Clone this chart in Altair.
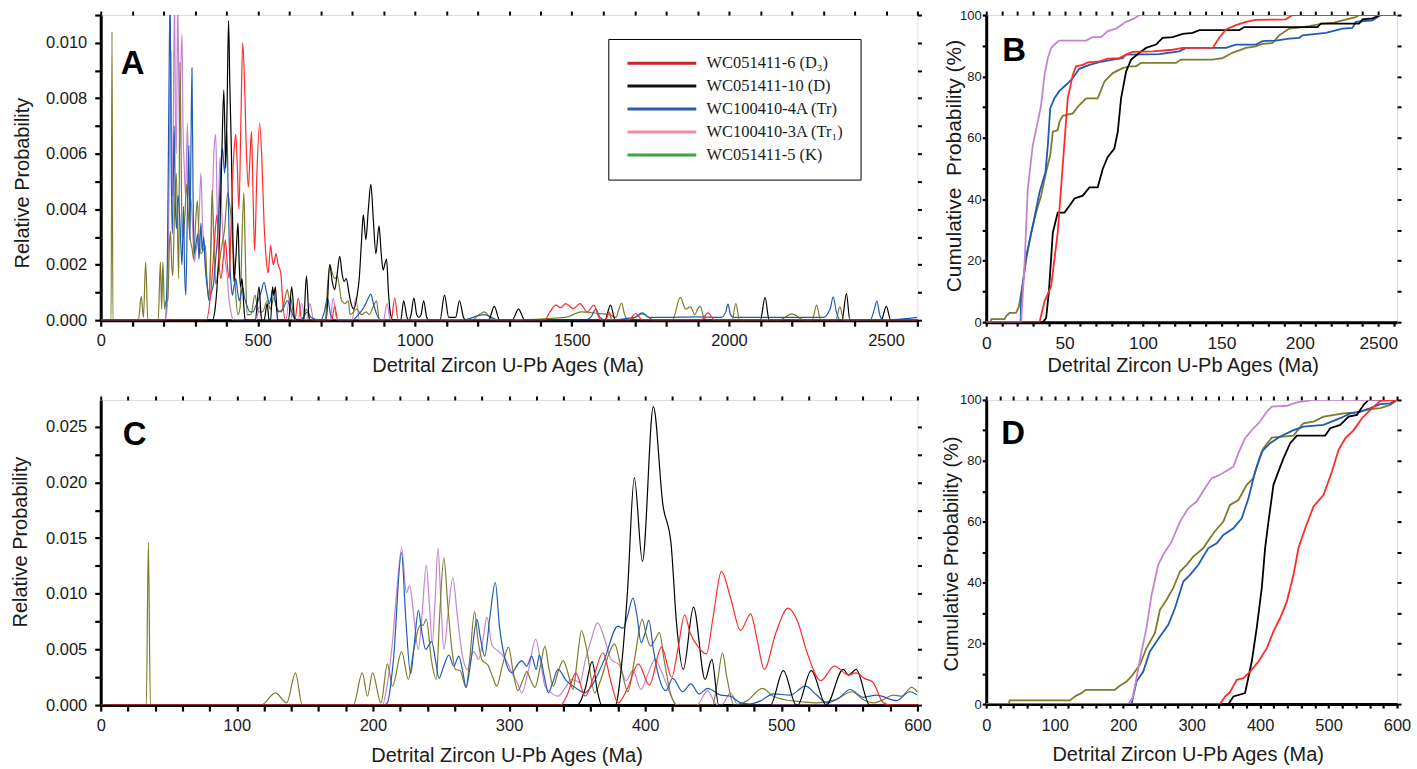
import altair as alt
import pandas as pd

# ---------------- Panel A : relative probability, 0-2600 Ma ----------------
A_RED = [(0,0),(336,0),(352,0.0012),(362,0.0028),(370,0.0038),(376,0.0022),(383,0.0015),(390,0.0022),(397,0.0029),(403,0.002),(409,0.0015),(414,0.003),(419,0.0048),(425,0.0062),(430,0.0067),(435,0.0055),(440,0.0040),(446,0.007),(452,0.0100),(458,0.0085),(464,0.006),(470,0.0048),(475,0.0058),(480,0.0068),(485,0.0045),(490,0.0025),(497,0.0052),(506,0.0071),(513,0.0058),(520,0.0035),(527,0.0022),(533,0.0017),(541,0.0027),(546,0.0022),(550,0.002),(558,0.0024),(565,0.002),(573,0.0017),(580,0.0006),(587,0),(618,0),(629,0.0008),(640,0),(735,0),(745,0.0005),(755,0),(925,0),(936,0.0008),(947,0),(1412,0),(1430,0.0003),(1449,0.00054),(1465,0.00045),(1480,0.0006),(1504,0.00042),(1526,0.0006),(1549,0.0003),(1570,0.00054),(1586,0.0001),(1595,0),(1608,0),(1618,0.0003),(1628,0),(1680,0),(1703,0.00024),(1725,0),(1910,0),(1933,0.00026),(1955,0),(2600,0)]
A_BLACK = [(0,0),(355,0),(364,0.0004),(372,0.0015),(380,0.0035),(386,0.0062),(392,0.0083),(398,0.0055),(402,0.0075),(407,0.0108),(411,0.0085),(416,0.0061),(420,0.0035),(424,0.0014),(430,0.0022),(437,0.0035),(441,0.002),(445,0.0012),(450,0.0015),(455,0.0006),(460,0),(492,0),(504,0.0012),(512,0),(520,0),(530,0.0006),(536,0),(541,0),(547,0.0012),(551,0.0009),(556,0.0012),(563,0),(598,0),(608,0.0012),(618,0),(646,0),(655,0.0016),(664,0),(718,0),(729,0.002),(737,0.0014),(745,0.0011),(752,0.0016),(761,0.0023),(768,0.0017),(775,0.0014),(782,0.0015),(790,0.001),(797,0.0006),(806,0.0004),(815,0.0008),(823,0.0015),(830,0.0028),(836,0.0038),(844,0.0029),(852,0.004),(860,0.0049),(868,0.0036),(876,0.0024),(886,0.0034),(893,0.0024),(899,0.0018),(904,0.002),(910,0.0022),(916,0.001),(923,0.0002),(930,0),(955,0),(964.5,0.0007),(975,0.0001),(981,0),(988,0.0002),(997,0.0008),(1006,0.0002),(1013,0.0001),(1020,0.0002),(1028,0.0007),(1038,0.0001),(1045,0),(1080,0),(1094.5,0.0009),(1108,0.0001),(1130,0.0001),(1142,0.0007),(1155,0.0001),(1163,0),(1235,0),(1253,0.0005),(1270,0),(1310,0),(1330,0.0004),(1350,0),(1605,0),(1623,0.00054),(1638,0),(2100,0),(2115,0.00082),(2128,0),(2360,0),(2374,0.00096),(2385,0),(2485,0),(2501,0.0005),(2515,0),(2600,0)]
A_BLUE = [(0,0),(205,0),(212,0.002),(217,0.008),(221,0.0118),(224,0.006),(228,0.0031),(231,0.005),(234,0.007),(237,0.0045),(241,0.0033),(246,0.0045),(252,0.0036),(256,0.0025),(259,0.002),(263.5,0.0041),(267,0.0018),(271,0.0009),(276,0.004),(280.5,0.0063),(284,0.0029),(287,0.006),(290.5,0.0091),(294,0.0045),(298,0.0024),(304,0.0028),(309,0.0031),(313,0.0022),(319,0.0035),(323,0.0025),(328,0.003),(333,0.0019),(339,0.0012),(345,0.0007),(352,0.001),(359,0.0013),(366,0.0022),(373,0.0032),(380,0.0048),(387.5,0.0062),(394.5,0.0053),(401.5,0.0068),(406,0.0045),(410,0.0024),(415,0.0013),(419,0.0009),(424,0.0012),(430,0.0015),(436,0.001),(441.5,0.0007),(446,0.0009),(451.5,0.0012),(458,0.0008),(466,0.0005),(475,0.0003),(485,0.0003),(493,0.0005),(501,0.0007),(510,0.001),(520,0.00136),(528,0.001),(537,0.0006),(542,0.0008),(547,0.0011),(555,0.0007),(565,0.0003),(580,0.0004),(594,0.0007),(605,0.0004),(615,0.0001),(635,0),(645,0.0001),(658,0.0003),(670,0.0001),(700,0),(712,0.0003),(722,0.0008),(732,0.0002),(745,0),(800,0),(820,0.0002),(840,0.0005),(852,0.0008),(860,0.00094),(868,0.0006),(879,0.0002),(890,0),(1150,0),(1220,0.0002),(1270,0),(1540,0),(1560,0.0001),(1576,0.00039),(1590,0.0001),(1605,0),(1700,0.0001),(1724,0.00026),(1745,0.0001),(1800,0.0001),(1900,0.00012),(1975,0.0001),(1990,0.0003),(1997,0.00058),(2005,0.0002),(2015,0.0001),(2100,0.0001),(2200,0.0001),(2300,0.0001),(2322,0.0004),(2332,0.00084),(2342,0.0003),(2355,0),(2450,0),(2463,0.0004),(2471,0.00069),(2480,0.0002),(2490,0),(2600,0.0001)]
A_PINK = [(0,0),(205,0),(212,0.0005),(216,0.003),(220,0.0075),(223.6,0.0097),(226,0.006),(229,0.0045),(232,0.0085),(235,0.0116),(238,0.007),(241,0.006),(245,0.0116),(249,0.008),(252,0.0062),(255,0.009),(259,0.0103),(262,0.007),(266,0.0055),(270,0.0045),(276,0.0071),(281,0.0045),(287.7,0.0043),(292,0.0035),(297.7,0.0021),(303,0.0025),(309,0.0029),(314,0.004),(319,0.0053),(324,0.0035),(330.5,0.0024),(337,0.0015),(344.7,0.0009),(350,0.002),(356,0.0045),(361,0.0062),(366,0.0067),(370,0.0045),(373,0.0031),(376,0.0045),(380,0.0059),(385,0.004),(390,0.0029),(396,0.0022),(401.7,0.0017),(408,0.0008),(416,0.0002),(422,0),(495,0),(505,0.0005),(515,0),(590,0),(600,0.0008),(610,0),(628,0),(640,0.0006),(652,0),(655,0),(666,0.0006),(678,0),(730,0),(740,0.0008),(752,0),(800,0),(812,0.0008),(824,0),(900,0),(911.6,0.0006),(922,0),(2600,0)]
A_OLIVE = [(0,0),(33,0),(35.9,0.0104),(38.8,0),(120,0),(129,0.00086),(136,0.0001),(143,0.0021),(150,0),(183,0),(190,0.0021),(194,0.0004),(198,0.0021),(203,0.0004),(208,0.0007),(214,0.0007),(218,0.0025),(222,0.0032),(226,0.002),(229.5,0.0016),(234,0.0035),(240.7,0.0053),(245,0.003),(248.5,0.0015),(252,0.0093),(256,0.006),(259,0.003),(263.5,0.0031),(268,0.0038),(273.5,0.0049),(278,0.004),(284,0.003),(290.6,0.0026),(296,0.0022),(302,0.0035),(307.7,0.0043),(313,0.003),(319,0.0024),(326,0.0025),(333,0.0027),(338,0.0015),(344.7,0.0008),(350,0.0025),(354.7,0.0047),(360,0.003),(366,0.0013),(374,0.0018),(383,0.0025),(389,0.0029),(394.6,0.0033),(399,0.004),(404.6,0.0046),(410,0.0042),(416,0.0036),(420,0.0028),(424.5,0.0021),(430,0.0009),(437,0.0002),(444,0.0005),(450,0.003),(455.8,0.0046),(460,0.0025),(466,0.0002),(478,0.0002),(491,0.0009),(502,0.0003),(515,0.0003),(530,0.0007),(540,0.0004),(551,0.0008),(562,0.0004),(575,0.0003),(585,0.0007),(594,0.0011),(600,0.0008),(605,0.0008),(612,0.0003),(619,0),(640,0),(655,0.0004),(668,0),(715,0),(722,0.0012),(729.7,0.002),(737,0.0017),(745.6,0.0015),(753,0.0016),(760,0.0012),(767,0.0007),(778,0.0006),(788,0.0007),(794,0.0002),(805,0.0003),(815,0.0004),(830,0.0002),(845,0.0003),(855,0.0002),(868,0.0005),(878,0.0007),(887,0),(1180,0),(1205,0.0002),(1221,0.0003),(1240,0.0001),(1270,0),(1480,0.0001),(1530,0.0003),(1580,0.00025),(1620,0.0002),(1640,0.0001),(1650,0.0004),(1658,0.00062),(1668,0.0002),(1680,0),(1700,0.0001),(1724,0.00023),(1745,0.0001),(1760,0),(1820,0),(1845,0.00082),(1862,0.0004),(1877,0.00048),(1892,0.0002),(1900,0.0004),(1909,0.0005),(1920,0.0001),(1935,0),(2010,0),(2022,0.0006),(2034,0),(2160,0),(2200,0.00023),(2240,0),(2265,0),(2279,0.00054),(2292,0),(2340,0),(2353,0.00048),(2366,0),(2600,0)]

# ---------------- Panel B : cumulative probability (axis 0-260, last label 2500) ----------------
B_RED = [(0,0),(34,0),(37.2,6.8),(41.4,11.7),(45.6,29.2),(48.8,51),(52,72.9),(55.2,80.5),(57.3,83.3),(61.6,83.8),(64.8,84.6),(72.2,84.9),(77.5,85.8),(84.9,86),(89.2,87.1),(93.4,88),(106.2,88.2),(118.9,88.7),(125.3,89.3),(144.4,89.3),(148.6,92.6),(152.9,95.3),(159.2,96.7),(165.6,97.8),(172,98.4),(191.1,98.6),(195.3,100),(262,100)]
B_BLACK = [(0,0),(36.1,0),(38.2,1.3),(39.9,9.5),(42.5,29.2),(45.6,35.7),(49.9,35.7),(53.1,37.9),(56.3,40.3),(61.6,41.2),(65.8,43.9),(71.1,43.9),(74.3,49.9),(77.5,53.8),(81.7,56.5),(83.9,62),(86,72.9),(89.2,81.6),(92.4,85.5),(97.7,87.7),(101.9,89.3),(108.3,90.4),(112.5,92.6),(118.9,92.8),(125.3,93.9),(131.6,94.2),(135.9,95.1),(161.4,95.1),(164.5,96.1),(211.3,96.1),(213.4,97.2),(237.8,97.2),(240,98.6),(246.3,98.9),(251.6,100),(262,100)]
B_BLUE = [(0,0),(21.9,0),(22.3,8.4),(25.5,21.5),(29.7,31.4),(34,42.3),(37.8,48.9),(39.3,57.6),(40.8,69.6),(43.5,72.9),(46.7,75.3),(51,77.3),(55.2,79.5),(59.4,82.5),(65.8,83.8),(72.2,84.7),(80.7,85.5),(87,86),(89.2,87.1),(110.4,87.3),(123.1,88.2),(127.4,89.3),(152.9,89.3),(159.2,90.4),(172,90.4),(176.2,91.5),(184.7,91.7),(193.2,92.3),(199.6,92.6),(201.7,93.4),(216.6,94.2),(227.2,95.6),(233.5,95.8),(235.7,97.8),(246.3,98.3),(249.5,99.3),(250.5,100),(262,100)]
B_PINK = [(0,0),(22.3,0),(24.4,18.3),(26.5,43.4),(29.7,57.6),(32.9,65.2),(35,70.7),(37.2,80.5),(39.3,86),(41.4,89.3),(44.6,90.9),(46.7,91.7),(63.7,91.7),(67.9,92.8),(73.2,92.8),(77.5,94.8),(82.8,95.6),(89.2,97.8),(94.5,98.9),(97.7,100),(262,100)]
B_OLIVE = [(0,0),(3,0),(3.2,1),(11.7,1),(12.7,2),(14.9,3),(19,3),(20.8,5),(23.4,12.8),(25.5,20.4),(28.7,29.2),(31.8,35.7),(35,41.2),(38.2,48.9),(40.8,54.3),(42.5,62),(45.6,62.5),(46.7,65.2),(48.8,67.2),(55.2,68),(59.4,70.7),(63.7,72.9),(71.1,72.9),(75.4,78.4),(80.7,81.1),(87,82.7),(91.3,83.3),(95.5,83.3),(98.7,84.4),(121,84.4),(124.2,85.5),(144.4,85.5),(150.7,86),(157,87.7),(165.6,89.3),(172,89.8),(176.2,90.6),(182.6,90.9),(186.8,93.4),(193.2,95.6),(201.7,96.1),(206,96.4),(214.4,97.2),(221.9,97.5),(227.2,98.3),(235.7,99.3),(237.8,100),(262,100)]

# ---------------- Panel C : relative probability, 0-600 Ma ----------------
C_RED = [(0,0),(338,0),(343,0.001),(349,0.0029),(356,0.0008),(362,0.0025),(369,0.0047),(375,0.002),(380,0.0002),(387,0.0015),(395,0.0037),(403,0.0018),(412,0.0052),(419.5,0.0025),(424,0.005),(429,0.0081),(433,0.0065),(438.5,0.0053),(445,0.0046),(450,0.008),(456,0.012),(463,0.0095),(470,0.0067),(477.5,0.0082),(482,0.006),(487.5,0.0032),(496,0.0065),(505,0.0087),(512,0.0075),(519,0.0047),(529,0.0022),(539,0.0035),(549.5,0.0027),(555,0.0029),(561,0.0024),(567,0.0021),(575,0.0002),(580,0),(600,0)]
C_BLACK = [(0,0),(350,0),(356,0.0015),(361,0.0039),(365,0.0012),(368,0),(378,0),(383,0.004),(387,0.0102),(392,0.0204),(398,0.0129),(406,0.0268),(413,0.018),(419,0.0145),(423,0.0074),(428,0.0032),(435.5,0.0088),(444,0.0023),(449,0.0041),(454,0),(492,0),(501.5,0.0031),(511,0),(512,0),(522,0.0031),(533,0),(545.5,0.0032),(549.5,0.0027),(555,0.0032),(565,0),(600,0)]
C_BLUE = [(0,0),(208,0),(210.6,0.0002),(215,0.004),(221,0.0137),(224,0.008),(227.7,0.0028),(230,0.005),(233.4,0.0085),(236,0.0065),(238.7,0.005),(243.1,0.0057),(246,0.004),(248.5,0.0024),(252,0.0035),(255.8,0.0045),(259.4,0.0035),(263.1,0.0044),(266,0.003),(268.4,0.0016),(272,0.004),(276.4,0.0077),(279,0.006),(282.1,0.0044),(286,0.008),(289.9,0.011),(293,0.007),(296.7,0.0043),(302,0.0029),(306,0.0036),(309.3,0.004),(313,0.0035),(316.6,0.0044),(320,0.0032),(322.2,0.0045),(326,0.0025),(328.9,0.0011),(332,0.002),(336,0.0032),(342,0.0022),(350.8,0.0014),(355.6,0.0011),(362,0.002),(370,0.0041),(380,0.0071),(383.7,0.0069),(387,0.008),(391,0.0096),(394,0.008),(397,0.0056),(400,0.0065),(402.7,0.0076),(406,0.005),(409.3,0.0029),(415.3,0.0013),(420.2,0.0024),(427.5,0.0012),(433.6,0.0019),(439.7,0.001),(445.8,0.0015),(455.5,0.0009),(462.6,0.0008),(470,0.0002),(477,0.0001),(485,0.0004),(494.3,0.001),(506.5,0.0009),(517.7,0.0017),(526,0.0009),(533.5,0.0002),(542,0.0006),(550.6,0.0014),(560.3,0.0007),(570,0.0009),(584.7,0.0004),(594.3,0.0012),(600,0.0009)]
C_PINK = [(0,0),(207,0),(210,0.0015),(214.3,0.0056),(218,0.011),(221.1,0.0141),(224.5,0.0101),(227,0.0107),(230,0.008),(233.3,0.005),(236,0.008),(239.2,0.0126),(241.5,0.009),(243.6,0.0056),(245.5,0.009),(247.8,0.0141),(250,0.009),(252.1,0.005),(255,0.008),(258.7,0.0114),(262,0.008),(265,0.005),(269.2,0.0032),(274,0.0048),(277.7,0.0041),(281,0.006),(283.7,0.0079),(287.4,0.0054),(293.5,0.0047),(298,0.004),(302,0.0029),(306,0.002),(309.3,0.0011),(314,0.003),(319.6,0.0059),(323,0.004),(326.4,0.0017),(331,0.0011),(336,0.0008),(341,0.0015),(345.9,0.0023),(349,0.0022),(352,0.002),(356,0.004),(360.4,0.0059),(365,0.0074),(370,0.006),(375,0.0041),(381,0.0036),(386,0.0022),(391,0.0031),(397,0.0014),(402,0.0028),(407.3,0.0041),(412,0.003),(415.3,0.002),(419,0.0008),(423,0),(438,0),(445.8,0.0013),(452,0.0001),(456,0),(462.8,0.0011),(468,0),(600,0)]
C_OLIVE = [(0,0),(33.5,0),(35,0.0146),(36.5,0),(118,0),(128.4,0.0011),(136.6,0.0002),(143.1,0.0029),(148,0),(185.6,0),(192.2,0.0029),(196,0.0008),(199.7,0.0029),(205.9,0.0002),(210.6,0.0037),(214.3,0.0017),(221.1,0.0048),(226,0.0023),(230,0.005),(234.3,0.0071),(237,0.0072),(239.2,0.0077),(243,0.004),(246.5,0.0023),(249,0.008),(252.1,0.0132),(255,0.009),(258,0.005),(260.6,0.0032),(264,0.0031),(268.4,0.0016),(271,0.004),(274.7,0.0084),(277,0.006),(280,0.0041),(284.9,0.0035),(288,0.0025),(291,0.0017),(295,0.0035),(299.6,0.0052),(303,0.003),(306.4,0.0013),(310,0.0022),(313,0.003),(316,0.0022),(319,0.0016),(323,0.0035),(326.4,0.0053),(329,0.0035),(332.5,0.0017),(336,0.003),(339.8,0.004),(343,0.003),(347.1,0.0014),(350,0.004),(353.2,0.0067),(357,0.005),(362.9,0.0011),(368,0.0025),(373,0.0045),(377.5,0.0055),(382,0.0035),(387.3,0.0012),(392,0.004),(397.8,0.0077),(401,0.0062),(403.9,0.0053),(407,0.0058),(410.4,0.0065),(414,0.004),(419,0.0009),(423.9,0),(449.5,0),(453,0.002),(456.8,0.0047),(460,0.0025),(465.3,0),(475,0.0004),(486,0.0015),(494,0.0008),(501.8,0.0005),(515,0.0003),(526,0.0002),(540,0.0005),(551.8,0.0012),(560,0.0005),(567.6,0.0002),(575,0.0005),(582.2,0.0009),(588.3,0.0008),(595.6,0.0016),(600,0.0012)]

# ---------------- Panel D : cumulative probability, 0-600 Ma ----------------
D_RED = [(0,0),(341.5,0),(348.8,2.5),(356,3.9),(365.9,8),(375.6,8.5),(385.4,10.7),(397.6,14),(409.8,18.4),(419.5,23.9),(429.3,28.3),(439,33.7),(448.8,42.5),(456,51.3),(465.9,57.8),(478,65),(492.7,68.8),(504.9,76.5),(514.6,83.6),(524.4,87.4),(536.6,90.1),(548.8,94),(563.4,97.3),(575.6,99.7),(600,100)]
D_BLACK = [(0,0),(353.7,0),(361,2.5),(378,3.6),(387.8,14),(395,25),(402.4,38.1),(407.3,51.3),(412.2,60),(419.5,72.1),(426.8,76.5),(434.1,80.8),(443.9,85.8),(453.7,88.3),(495,88.3),(502.4,90.7),(517,91.8),(529.3,94.5),(541.5,95.1),(551.2,98.4),(558.5,100),(600,100)]
D_BLUE = [(0,0),(212.2,0),(219.5,7.4),(229.3,10.7),(239,17.3),(253.7,22.2),(265.9,26.1),(275.6,31.5),(287.8,40.3),(297.6,42.5),(309.8,45.8),(324.4,51.3),(336.6,52.9),(346.3,55.6),(361,57.8),(373.2,61.1),(383,67.7),(392.7,76.5),(402.4,83),(414.6,85.8),(429.3,88),(448.8,90.1),(463.4,91.2),(492.7,91.8),(517,94),(531.7,95.6),(546.3,96.2),(561,97.3),(575.6,98.6),(590,98.9),(600,100)]
D_PINK = [(0,0),(207.3,0),(213.7,2),(218.5,7.4),(226.8,17.3),(234,25),(241.5,35.9),(251.2,45.8),(258.5,49.1),(270.7,53.4),(283,60),(295,64.4),(307.3,66.6),(319.5,71),(329.3,74.3),(339,75.1),(351.2,76.7),(361,78.1),(368.3,82.5),(378,87.4),(387.8,90.1),(400,92.9),(409.8,96.2),(417,97.8),(439,98.1),(453.7,99.2),(468.3,99.7),(478,100),(600,100)]
D_OLIVE = [(0,0),(33.2,0),(34,1.2),(122,1.2),(131.7,2.8),(139,3.6),(145.4,4.7),(187.8,4.7),(195,6),(205,7.4),(212,9.1),(224.4,12.9),(234,18.4),(246.3,23.3),(253.7,31),(263.4,34.3),(273,38.1),(283,43.6),(292.7,45.8),(302.4,48.5),(317,51.3),(331.7,56.2),(346.3,60),(356,65.5),(368.3,67.1),(380.5,72.1),(390.2,74.3),(397.6,79.7),(404.9,84.1),(417,87.6),(448.8,88.3),(461,91.8),(463.4,92.3),(478,92.9),(492.7,94.5),(522,95.6),(541.5,95.9),(561,97),(575.6,97.3),(590,98.4),(600,100)]

# ---------------- legend ----------------
LEG_LABELS = ["WC051411-6 (D\u2083)", "WC051411-10 (D)", "WC100410-4A (Tr)", "WC100410-3A (Tr\u2081)", "WC051411-5 (K)"]
LEG_COLORS = ["#c8232c", "#111111", "#2a5caa", "#f28b9b", "#3fa346"]

RED, BLACK, BLUE, PINK, OLIVE = "#ff2a2a", "#000000", "#1f5bb5", "#c585cd", "#7c7c2a"

FONT = "Liberation Sans"
TXT = "#1a1a1a"


def df_of(pairs):
    return pd.DataFrame(pairs, columns=["age", "val"])


def panel(series, w, h, xdom, ydom, xvals, xlabexpr, yvals, ylabexpr,
          xtitle, ytitle, xt, yt, letter, lxy, lw, interp,
          xlab_size, ylab_size, xtick, ytick, xlabpad, ylabpad, extra=()):
    xs = alt.Scale(domain=xdom, nice=False, zero=False)
    ys = alt.Scale(domain=ydom, nice=False, zero=False)
    bottom = alt.Axis(orient="bottom", values=xvals, labelExpr=xlabexpr, labelOverlap=False,
                      labelFlush=False, tickSize=xtick, tickWidth=2.2, tickColor="black",
                      domainWidth=3, domainColor="black", labelFont=FONT, labelFontSize=xlab_size,
                      labelColor=TXT, labelPadding=xlabpad, title=xtitle, titleFont=FONT,
                      titleFontSize=20, titleFontWeight="normal", titleColor=TXT,
                      titleX=xt[0], titleY=xt[1], titleBaseline="middle", titleAlign="center", grid=False)
    left = alt.Axis(orient="left", values=yvals, labelExpr=ylabexpr, labelOverlap=False,
                    labelFlush=False, tickSize=ytick, tickWidth=2.2, tickColor="black",
                    domainWidth=3, domainColor="black", labelFont=FONT, labelFontSize=ylab_size,
                    labelColor=TXT, labelPadding=ylabpad, title=ytitle, titleFont=FONT,
                    titleFontSize=yt[2], titleFontWeight="normal", titleColor=TXT, titleAngle=270,
                    titleX=yt[0], titleY=yt[1], titleBaseline="middle", titleAlign="center", grid=False)
    top = alt.Axis(orient="top", values=xvals, labels=False, domain=False, tickSize=4,
                   tickWidth=2, tickColor="black", title=None, grid=False)
    right = alt.Axis(orient="right", values=yvals, labels=False, domain=False, tickSize=4,
                     tickWidth=2, tickColor="black", title=None, grid=False)
    layers = []
    for i, (pairs, col) in enumerate(series):
        layers.append(
            alt.Chart(df_of(pairs)).mark_line(color=col, strokeWidth=lw, interpolate=interp, clip=True)
            .encode(x=alt.X("age:Q", scale=xs, axis=bottom if i == 0 else None),
                    y=alt.Y("val:Q", scale=ys, axis=left if i == 0 else None))
        )
    frame = alt.Chart(df_of(series[0][0])).mark_line(opacity=0, clip=True).encode(
        x=alt.X("age:Q", scale=xs, axis=top), y=alt.Y("val:Q", scale=ys, axis=right))
    lab = alt.Chart(pd.DataFrame({"t": [letter]})).mark_text(
        font=FONT, fontSize=33, fontWeight="bold", color="black", align="center", baseline="alphabetic"
    ).encode(x=alt.value(lxy[0]), y=alt.value(lxy[1]), text="t:N")
    return alt.layer(*layers, frame, lab, *extra).resolve_axis(
        x="independent", y="independent").properties(width=w, height=h)


legend_layer = alt.Chart(pd.DataFrame({"label": LEG_LABELS})).mark_point(opacity=0, size=1).encode(
    x=alt.value(5), y=alt.value(5),
    stroke=alt.Stroke("label:N", scale=alt.Scale(domain=LEG_LABELS, range=LEG_COLORS),
                      legend=alt.Legend(orient="none", legendX=509, legendY=24, title=None,
                                        symbolType="M-1,0H12.8", symbolSize=100, symbolStrokeWidth=3,
                                        symbolOpacity=1, symbolFillColor="transparent",
                                        labelFont="Liberation Serif", labelFontSize=16.5,
                                        labelColor=TXT, labelOffset=66, rowPadding=6, padding=16,
                                        strokeColor="black", fillColor="white")))

XA = list(range(0, 2601, 100))
YA = [round(i * 0.001, 4) for i in range(12)]
XC = list(range(0, 601, 20))
YC = [round(i * 0.0025, 4) for i in range(11)]
XB = list(range(0, 261, 10))
YP = list(range(0, 101, 10))

XTITLE = "Detrital Zircon U-Pb Ages (Ma)"

pA = panel([(A_PINK, PINK), (A_OLIVE, OLIVE), (A_BLUE, BLUE), (A_BLACK, BLACK), (A_RED, RED)],
           819, 306, [0, 2600], [0, 0.011], XA, "datum.value % 500 === 0 ? format(datum.value, 'd') : ''",
           YA, "round(datum.value*10000) % 20 === 0 ? format(datum.value, '.3f') : ''",
           XTITLE, "Relative Probability", (408, 45), (-78, 168, 20), "A", (32, 59), 1.2, "monotone",
           16.5, 16.5, 6, 6, 6, 8, extra=(legend_layer,))

pB = panel([(B_OLIVE, OLIVE), (B_BLUE, BLUE), (B_BLACK, BLACK), (B_PINK, PINK), (B_RED, RED)],
           412, 308, [0, 262], [0, 100], XB,
           "datum.value % 50 === 0 ? (datum.value === 250 ? '2500' : format(datum.value, 'd')) : ''",
           YP, "datum.value % 20 === 0 ? format(datum.value, 'd') : ''",
           XTITLE, "Cumulative \u00a0Probability (%)", (197, 43), (-32, 151, 21), "B", (28, 46), 1.8, "linear",
           17.4, 13, 4, 4, 8, 1)

pC = panel([(C_PINK, PINK), (C_OLIVE, OLIVE), (C_BLUE, BLUE), (C_BLACK, BLACK), (C_RED, RED)],
           819, 306, [0, 600], [0, 0.0274], XC, "datum.value % 100 === 0 ? format(datum.value, 'd') : ''",
           YC, "round(datum.value*10000) % 50 === 0 ? format(datum.value, '.3f') : ''",
           XTITLE, "Relative Probability", (407, 51), (-80, 142, 20), "C", (34, 45), 1.2, "monotone",
           16.5, 16.5, 6, 6, 6, 8)

pD = panel([(D_OLIVE, OLIVE), (D_BLUE, BLUE), (D_BLACK, BLACK), (D_PINK, PINK), (D_RED, RED)],
           412, 305, [0, 600], [0, 100], XC, "datum.value % 100 === 0 ? format(datum.value, 'd') : ''",
           YP, "datum.value % 20 === 0 ? format(datum.value, 'd') : ''",
           XTITLE, "Cumulative Probability (%)", (202, 51), (-35, 154, 20), "D", (27, 44), 1.8, "linear",
           16.5, 13, 4, 4, 9, 1)

chart = alt.concat(pA, pB, pC, pD, columns=2, spacing={"row": 78, "column": 69}, bounds="flush").properties(
    padding={"left": 10, "top": 5, "right": 5, "bottom": 2}
).configure_view(stroke="black", strokeWidth=3).configure_legend(strokeWidth=3).configure(background="white")

chart.save("out.html", embed_options={"renderer": "svg", "actions": False})
